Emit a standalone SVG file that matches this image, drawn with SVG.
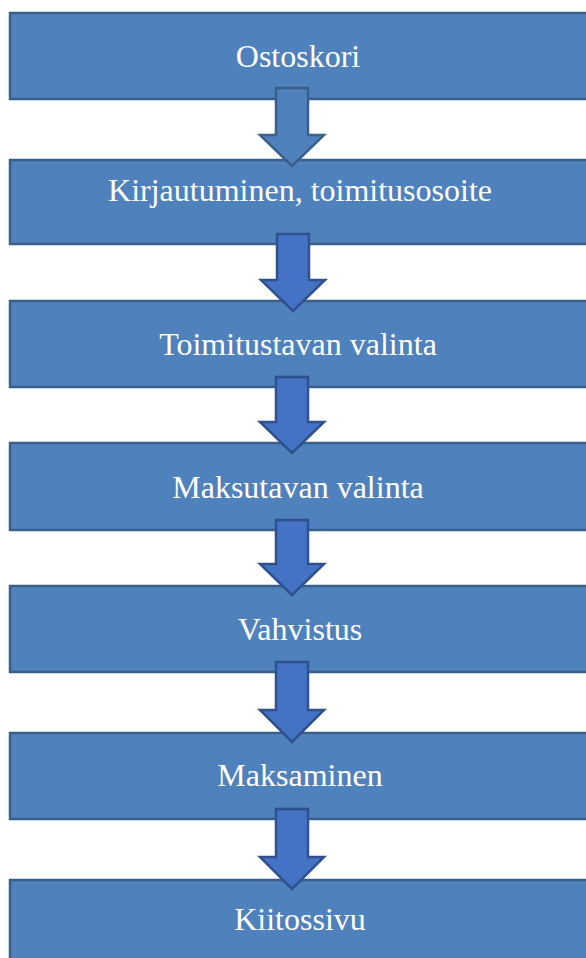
<svg xmlns="http://www.w3.org/2000/svg" width="586" height="958" viewBox="0 0 586 958">
<style>
.box{fill:#4F81BD;stroke:#3A5F8B;stroke-width:2.5}
.lbl{font-family:"Liberation Serif","Times New Roman",serif;font-size:32px;fill:#FFFFFF;text-anchor:middle}
.arr{fill:#4472C4;stroke:#2F528F;stroke-width:2.5;stroke-linejoin:miter}
.arr1{fill:#4F81BD;stroke:#3A5F8B;stroke-width:2.5}
</style>
<rect width="586" height="958" fill="#FFFFFF"/>
<g id="n1"><rect class="box" x="10" y="13" width="590" height="86"/><text class="lbl" x="298" y="67">Ostoskori</text></g>
<g id="n2"><rect class="box" x="10" y="160" width="590" height="84"/><text class="lbl" x="300" y="201">Kirjautuminen, toimitusosoite</text></g>
<g id="n3"><rect class="box" x="10" y="301" width="590" height="86"/><text class="lbl" x="298" y="355">Toimitustavan valinta</text></g>
<g id="n4"><rect class="box" x="10" y="443" width="590" height="87"/><text class="lbl" x="298" y="498">Maksutavan valinta</text></g>
<g id="n5"><rect class="box" x="10" y="586" width="590" height="86"/><text class="lbl" x="300" y="640">Vahvistus</text></g>
<g id="n6"><rect class="box" x="10" y="733" width="590" height="86"/><text class="lbl" x="300" y="786">Maksaminen</text></g>
<g id="n7"><rect class="box" x="10" y="880" width="590" height="90"/><text class="lbl" x="300" y="930">Kiitossivu</text></g>
<g id="connectors">
<path class="arr1" d="M276,88 H308 V135 H324 L292,166 L260,135 H276 Z"/>
<path class="arr" d="M277,234 H309 V280 H325 L293,311 L261,280 H277 Z"/>
<path class="arr" d="M276,377 H308 V422 H324 L292,453 L260,422 H276 Z"/>
<path class="arr" d="M276,520 H308 V564 H324 L292,595 L260,564 H276 Z"/>
<path class="arr" d="M276,662 H308 V710 H324 L292,742 L260,710 H276 Z"/>
<path class="arr" d="M276,809 H308 V857 H324 L292,889 L260,857 H276 Z"/>
</g>
</svg>
